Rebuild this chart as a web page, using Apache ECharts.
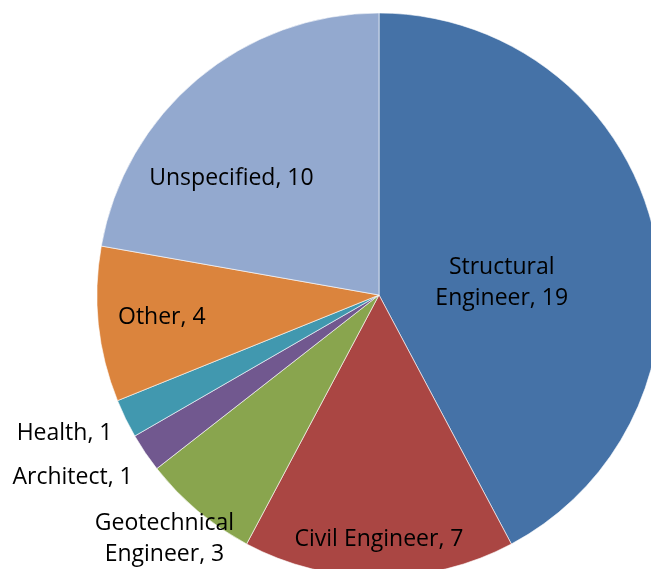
<!DOCTYPE html>
<html>
<head>
<meta charset="utf-8">
<script src="https://cdn.jsdelivr.net/npm/echarts@6/dist/echarts.min.js"></script>
<style>
  html, body { margin: 0; padding: 0; background: #fff; }
  #main { width: 651px; height: 569px; }
</style>
</head>
<body>
<div id="main"></div>
<script>
// data
var categories = ['Structural Engineer', 'Civil Engineer', 'Geotechnical Engineer', 'Architect', 'Health', 'Other', 'Unspecified']
var counts = [19, 7, 3, 1, 1, 4, 10]
// which labels break onto two lines
var wrapLabel = [true, false, true, false, false, false, false]

var colors = ['#4572A7', '#AA4643', '#89A54E', '#71588F', '#4198AF', '#DB843D', '#93A9CF']
// nudge labels from the default inside spot to where the picture has them
var labelShift = [[-17, 23], [0, 100], [-122, 134], [-187, 102], [-185, 75], [-74, 7], [-55, -6]]

var chart = echarts.init(document.getElementById('main'))

var pieData = categories.map(function (name, i) {
  return {
    name: name,
    value: counts[i],
    itemStyle: { color: colors[i] },
    label: {
      formatter: wrapLabel[i] ? name.replace(' ', '\n') + ', {c}' : '{b}, {c}'
    }
  }
})

chart.setOption({
  animation: false,
  series: [
    {
      type: 'pie',
      center: [379, 295],
      radius: 282,
      startAngle: 90,
      clockwise: true,
      silent: true,
      itemStyle: { borderColor: '#ffffff', borderWidth: 0.6 },
      label: {
        show: true,
        position: 'inside',
        color: '#000',
        fontFamily: 'Open Sans',
        fontSize: 23,
        lineHeight: 31,
        align: 'center'
      },
      labelLine: { show: false },
      labelLayout: function (params) {
        var s = labelShift[params.dataIndex]
        return { dx: s[0], dy: s[1] }
      },
      data: pieData
    }
  ]
})
</script>
</body>
</html>
